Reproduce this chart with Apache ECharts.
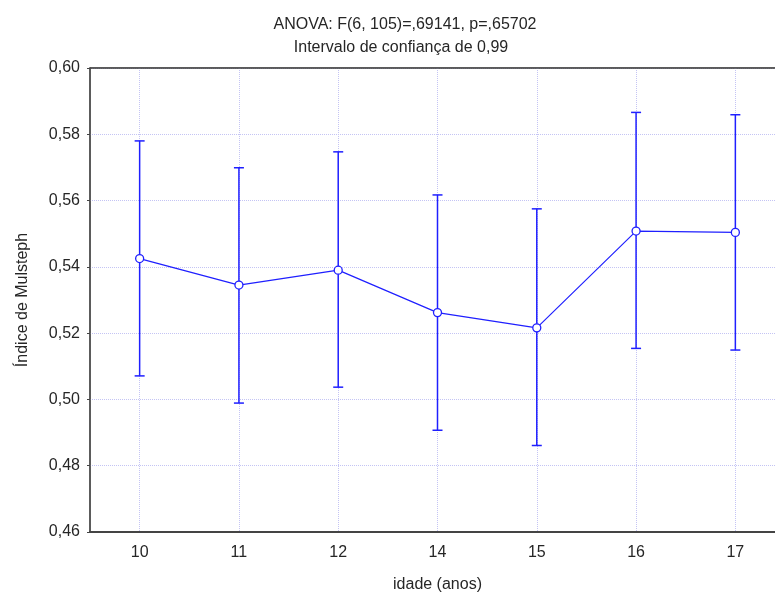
<!DOCTYPE html>
<html>
<head>
<meta charset="utf-8">
<script src="https://cdn.jsdelivr.net/npm/echarts@6/dist/echarts.min.js"></script>
<style>html,body{margin:0;padding:0;background:#fff;}#c{width:775px;height:592px;}</style>
</head>
<body>
<div id="c"></div>
<script>
const categories = ['10', '11', '12', '14', '15', '16', '17'];
const means = [0.5425, 0.5345, 0.5390, 0.5262, 0.5216, 0.5508, 0.5504];
const upper = [0.5780, 0.5699, 0.5747, 0.5617, 0.5575, 0.5866, 0.5859];
const lower = [0.5071, 0.4989, 0.5037, 0.4907, 0.4861, 0.5154, 0.5149];
const yTicks = { min: 0.46, max: 0.60, interval: 0.02 };
const titleText = 'ANOVA: F(6, 105)=,69141, p=,65702';
const subText = 'Intervalo de confiança de 0,99';
const xName = 'idade (anos)';
const yName = 'Índice de Mulsteph';

const blue = '#1f1fff';
const gridColor = '#c4c4f4';
const axisColor = '#444';
const textColor = '#262626';
const font = '"Liberation Sans", Arial, sans-serif';

const errData = categories.map((c, i) => [i, lower[i], upper[i]]);

const chart = echarts.init(document.getElementById('c'), null, { renderer: 'canvas' });
chart.setOption({
  animation: false,
  backgroundColor: '#fff',
  title: [{
    text: titleText,
    left: 400,
    top: 12,
    textAlign: 'center',
    textStyle: { fontFamily: font, fontSize: 16, fontWeight: 'normal', color: textColor }
  }, {
    text: subText,
    left: 396,
    top: 35,
    textAlign: 'center',
    textStyle: { fontFamily: font, fontSize: 16, fontWeight: 'normal', color: textColor }
  }],
  grid: {
    left: 90, top: 68, width: 695, height: 464,
    outerBoundsMode: 'none',
    containLabel: false,
    show: true, borderColor: axisColor, borderWidth: 1, backgroundColor: '#fff'
  },
  xAxis: [{
    type: 'category',
    data: categories,
    boundaryGap: true,
    name: xName,
    nameLocation: 'middle',
    nameGap: 45,
    nameTextStyle: { fontFamily: font, fontSize: 16, color: textColor },
    axisLine: { lineStyle: { color: axisColor, width: 2 } },
    axisTick: { alignWithLabel: true, inside: true, length: 4, lineStyle: { color: axisColor } },
    axisLabel: { fontFamily: font, fontSize: 16, color: textColor, margin: 13 },
    splitLine: { show: true, alignWithLabel: true, lineStyle: { color: gridColor, type: 'dotted', width: 1 } }
  }, {
    type: 'category',
    data: categories,
    position: 'top',
    boundaryGap: true,
    axisLine: { lineStyle: { color: axisColor, width: 1.5 } },
    axisTick: { alignWithLabel: true, inside: true, length: 4, lineStyle: { color: axisColor } },
    axisLabel: { show: false },
    splitLine: { show: false }
  }],
  yAxis: {
    type: 'value',
    min: yTicks.min,
    max: yTicks.max,
    interval: yTicks.interval,
    name: yName,
    nameLocation: 'middle',
    nameRotate: 90,
    nameGap: 59,
    nameTextStyle: { fontFamily: font, fontSize: 16, color: textColor },
    axisLine: { show: true, lineStyle: { color: axisColor, width: 1.5 } },
    axisTick: { show: true, inside: false, length: 3, lineStyle: { color: axisColor } },
    axisLabel: {
      fontFamily: font, fontSize: 16, color: textColor, margin: 10,
      formatter: v => v.toFixed(2).replace('.', ',')
    },
    splitLine: { show: true, lineStyle: { color: gridColor, type: 'dotted', width: 1 } }
  },
  series: [{
    type: 'custom',
    xAxisIndex: 0,
    data: errData,
    z: 2,
    renderItem: function (params, api) {
      const x = api.value(0);
      const lo = api.coord([x, api.value(1)]);
      const hi = api.coord([x, api.value(2)]);
      const hw = 5;
      const st = { stroke: blue, lineWidth: 1.5 };
      return {
        type: 'group',
        children: [
          { type: 'line', shape: { x1: lo[0], y1: lo[1], x2: hi[0], y2: hi[1] }, style: st },
          { type: 'line', shape: { x1: hi[0] - hw, y1: hi[1], x2: hi[0] + hw, y2: hi[1] }, style: st },
          { type: 'line', shape: { x1: lo[0] - hw, y1: lo[1], x2: lo[0] + hw, y2: lo[1] }, style: st }
        ]
      };
    }
  }, {
    type: 'line',
    xAxisIndex: 0,
    data: means,
    z: 3,
    symbol: 'circle',
    symbolSize: 8,
    lineStyle: { color: blue, width: 1.2 },
    itemStyle: { color: '#fff', borderColor: blue, borderWidth: 1.3 }
  }]
});
</script>
</body>
</html>
